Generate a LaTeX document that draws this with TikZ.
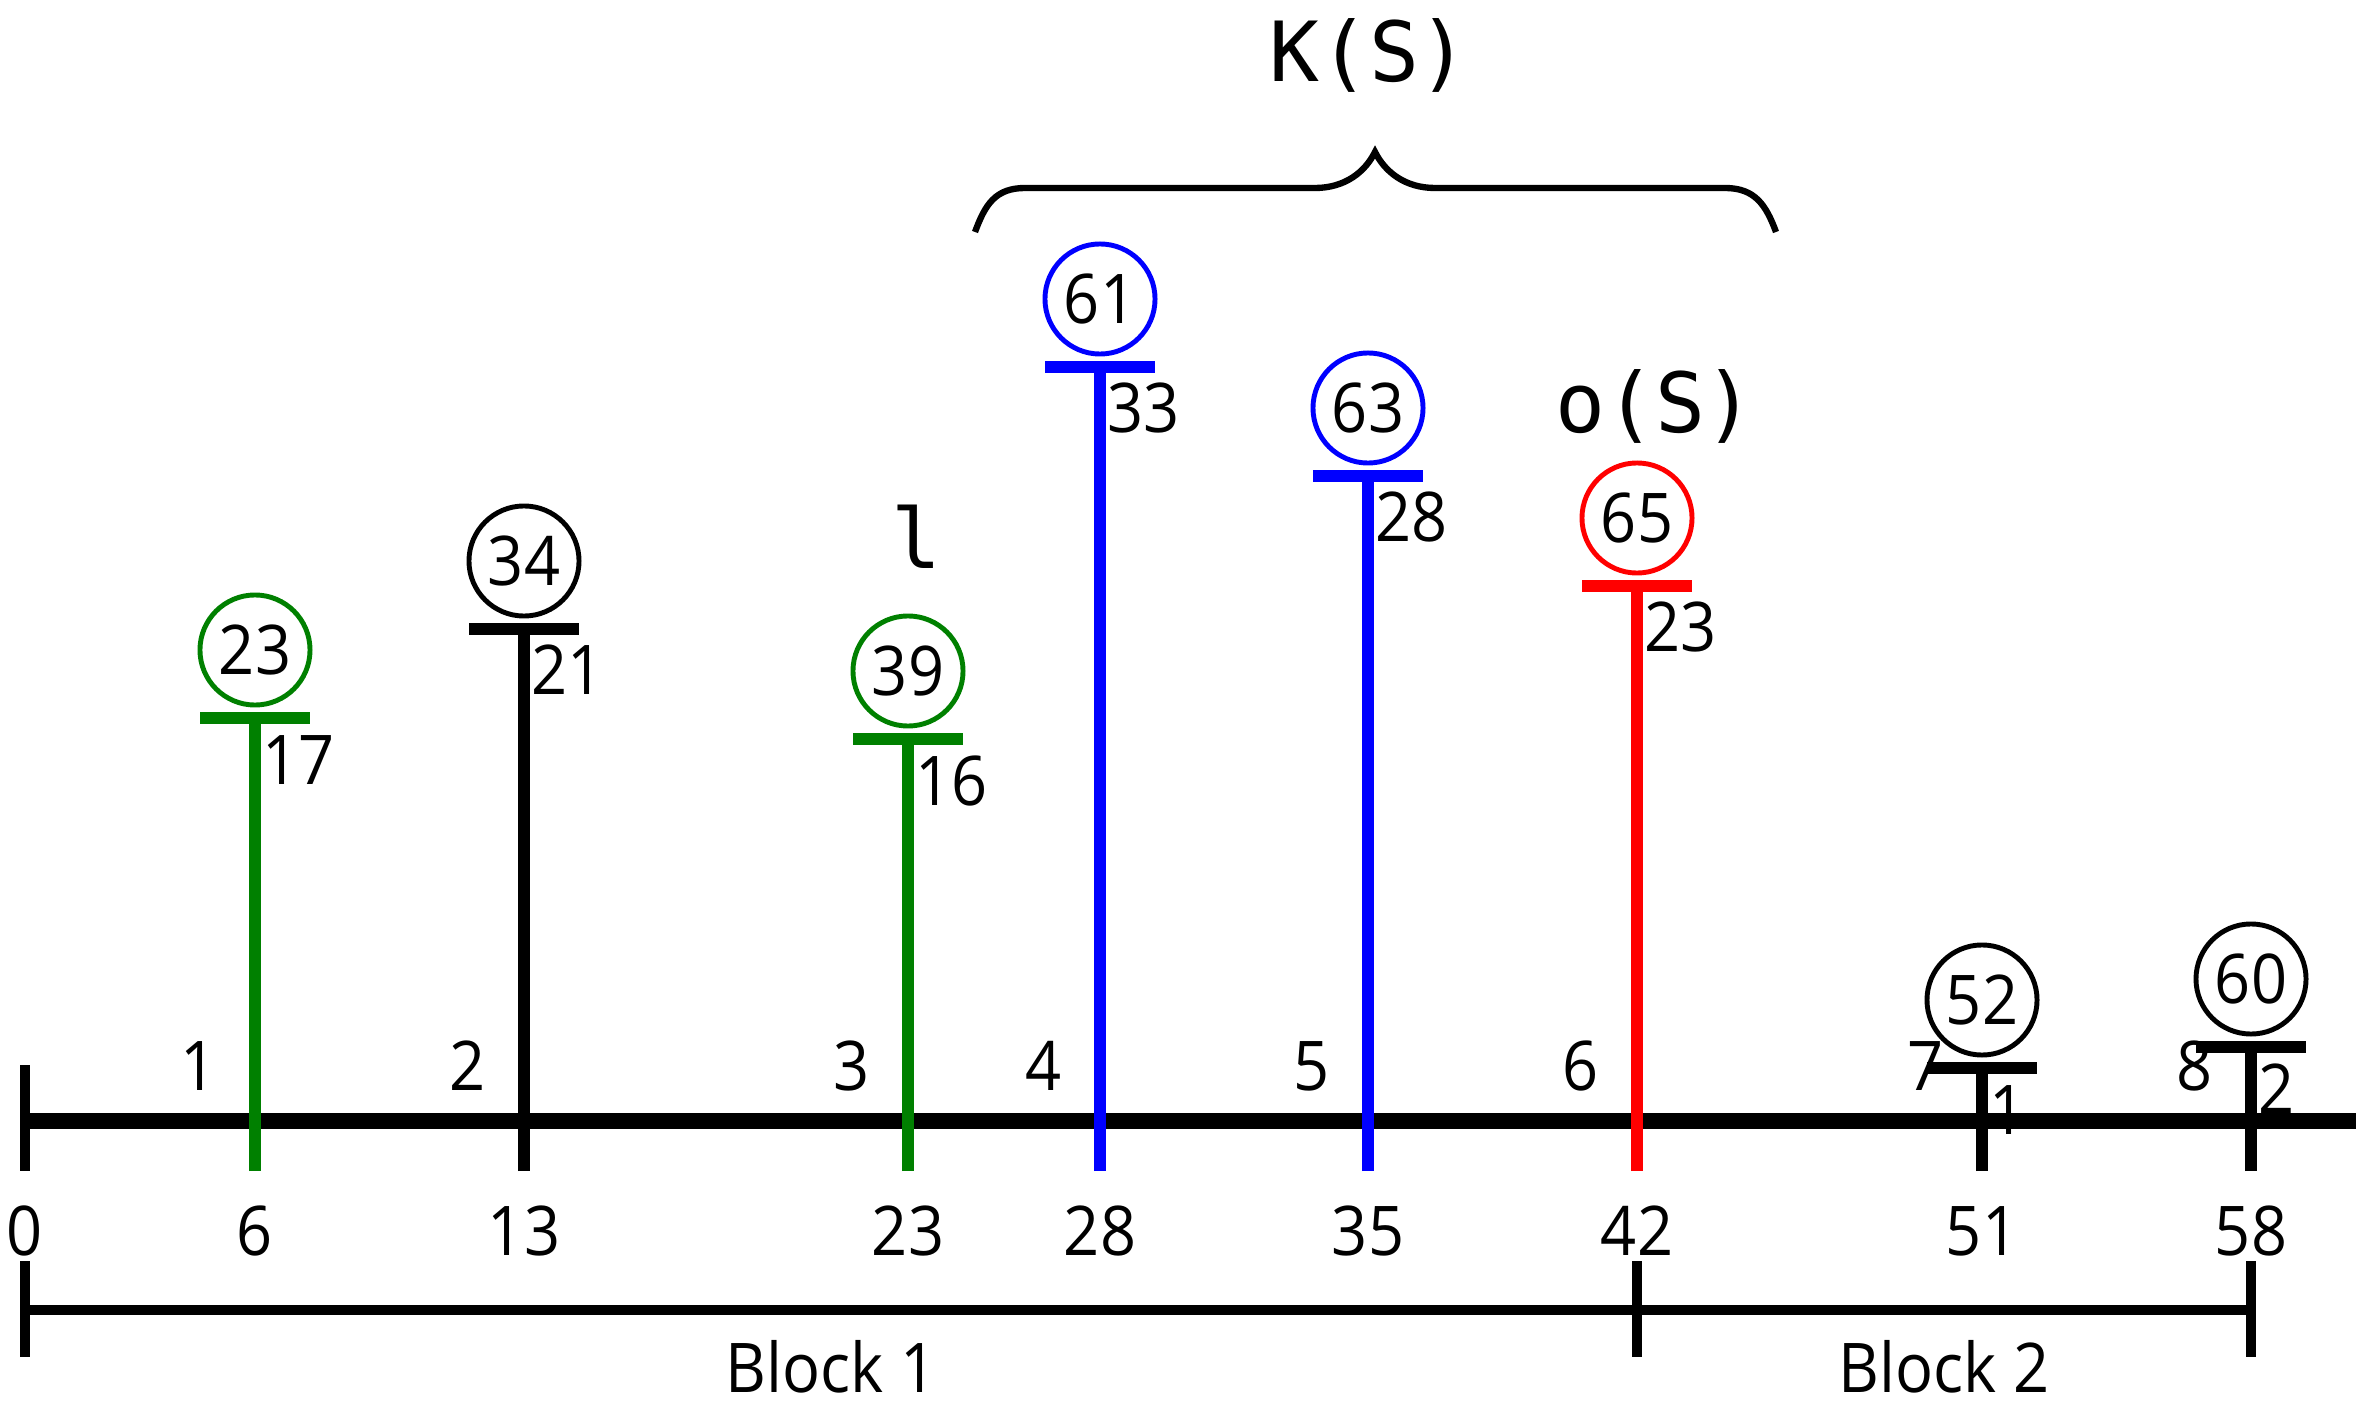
\documentclass[tikz,border=0pt]{standalone}
\usepackage{fontspec}
\setmainfont{Open Sans}[FakeStretch=0.92]
\newfontfamily\monof{DejaVu Sans Mono}
\definecolor{cgreen}{RGB}{0,128,0}
\definecolor{cblue}{RGB}{0,0,255}
\definecolor{cred}{RGB}{255,0,0}
\newcommand\lblf{\fontsize{19.5pt}{21pt}\selectfont}
\newcommand\bigf{\monof\fontsize{23.6pt}{26pt}\selectfont}
\begin{document}
\begin{tikzpicture}[x=0.01cm,y=-0.01cm,
  stemline/.style={line width=3.2pt,line cap=butt},
  barline/.style={line width=3.2pt,line cap=butt},
  axisline/.style={line width=4.6pt,line cap=butt},
  tickline/.style={line width=3pt,line cap=butt},
  blockline/.style={line width=3pt,line cap=butt},
  circ/.style={circle,draw,line width=1.4pt,minimum size=1.1cm,inner sep=0pt,font=\lblf},
  lbl/.style={inner sep=0pt,font=\lblf},
  big/.style={inner sep=0pt,font=\bigf}]
\useasboundingbox (0,0) rectangle (2376,1419);

% main axis
\coordinate (axL) at (25,1121);
\coordinate (axR) at (2356,1121);
\coordinate (axT) at (25,1065);
\coordinate (axB) at (25,1171);
\draw[axisline] (axL) -- (axR);
\draw[tickline] (axT) -- (axB);

% stems
\foreach \i/\x/\b/\c/\w/\col/\p in {
  1/255/718/23/17/cgreen/6,
  2/524/629/34/21/black/13,
  3/908/739/39/16/cgreen/23,
  4/1100/367/61/33/cblue/28,
  5/1368/476/63/28/cblue/35,
  6/1637/586/65/23/cred/42,
  7/1982/1068/52/1/black/51,
  8/2251/1047/60/2/black/58}{
  \coordinate (s\i) at (\x,1171);
  \coordinate (t\i) at (\x,\b);
  \coordinate (bl\i) at (\x-55,\b);
  \coordinate (br\i) at (\x+55,\b);
  \draw[stemline,draw=\col] (s\i) -- (t\i);
  \draw[barline,draw=\col] (bl\i) -- (br\i);
  \node[circ,draw=\col] (c\i) at (\x,\b-68) {\c};
  \node[lbl,anchor=base west] (w\i) at (\x+7,\b+66) {\w};
  \node[lbl,anchor=base] (n\i) at (\x-56,1090) {\i};
  \node[lbl,anchor=base] (p\i) at (\x,1255) {\p};
}
\node[lbl,anchor=base] (p0) at (25,1255) {0};

% blocks
\coordinate (k0) at (25,1310);
\coordinate (k1) at (1637,1310);
\coordinate (k2) at (2251,1310);
\draw[blockline] (k0) -- (k2);
\foreach \k/\x in {a/25,b/1637,c/2251}{
  \coordinate (kt\k) at (\x,1261);
  \coordinate (kb\k) at (\x,1357);
  \draw[tickline] (kt\k) -- (kb\k);
}
\node[lbl,anchor=base] (blk1) at (831,1392) {Block 1};
\node[lbl,anchor=base] (blk2) at (1944,1392) {Block 2};

% brace
\coordinate (brL) at (975,232);
\coordinate (brM) at (1375,152);
\coordinate (brR) at (1776,232);
\draw[line width=1.8pt] (brL) .. controls (985,205) and (995,188) .. (1025,188) -- (1315,188)
  .. controls (1345,188) and (1365,172) .. (brM)
  .. controls (1385,172) and (1405,188) .. (1435,188) -- (1725,188)
  .. controls (1755,188) and (1766,205) .. (brR);

\node[big,anchor=base] (ks) at (1369,82) {K(S)};
\node[big,anchor=base] (os) at (1655,433) {o(S)};
\node[big,anchor=base] (ll) at (916,569) {l};
\end{tikzpicture}
\end{document}
